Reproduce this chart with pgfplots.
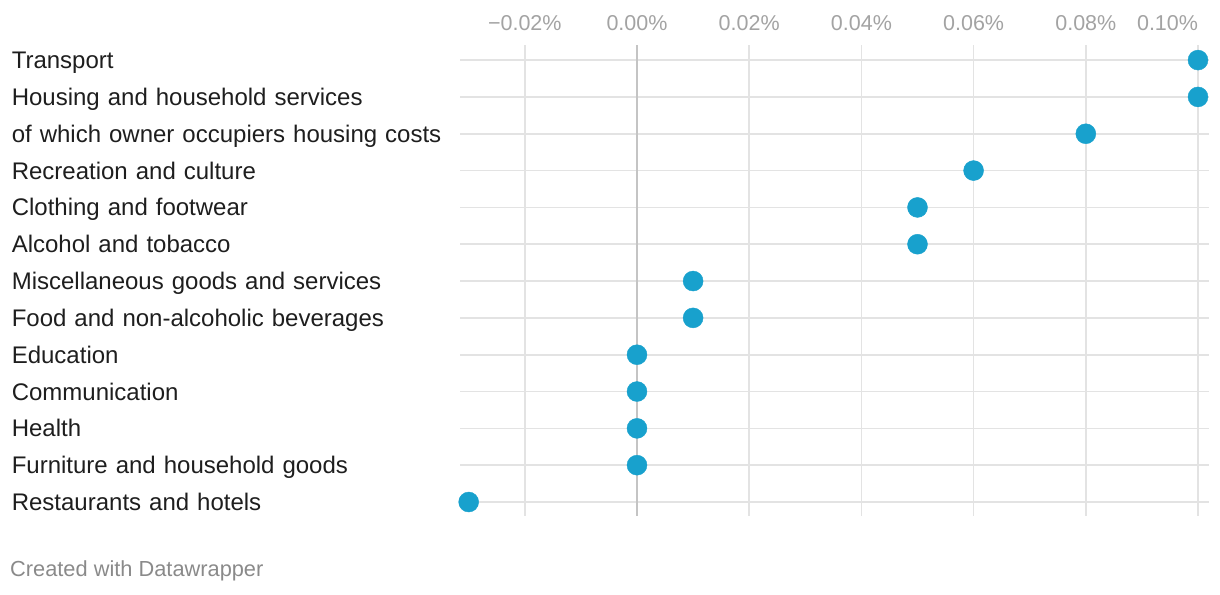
\documentclass[border=0pt]{standalone}
\usepackage{pgfplots}
\pgfplotsset{compat=1.18}
\usepackage{pgfplotstable}
\usepackage{fontspec}
\setmainfont{Liberation Sans}
\definecolor{dotblue}{HTML}{18A1CD}
\definecolor{gridgray}{HTML}{E3E3E3}
\definecolor{zerogray}{HTML}{C4C4C4}
\definecolor{ticktext}{HTML}{A3A3A3}
\definecolor{labeltext}{HTML}{1E1E1E}
\definecolor{foottext}{HTML}{8A8A8A}
\pgfplotstableread{
y v
0 0.10
1 0.10
2 0.08
3 0.06
4 0.05
5 0.05
6 0.01
7 0.01
8 0
9 0
10 0
11 0
12 -0.03
}\data
\begin{document}
\begin{tikzpicture}
\begin{axis}[
  scale only axis,
  width=749pt, height=471pt,
  xmin=-0.03155, xmax=0.10196,
  ymin=-0.41, ymax=12.38,
  y dir=reverse,
  clip=false,
  axis line style={draw=none},
  major tick length=0pt,
  tick style={draw=none},
  xmajorgrids, ymajorgrids,
  grid style={color=gridgray, line width=1.6pt},
  xtick={-0.02,0,0.02,0.04,0.06,0.08,0.10},
  xticklabels={−0.02\%,0.00\%,0.02\%,0.04\%,0.06\%,0.08\%,\makebox[0pt][r]{0.10\%}},
  xticklabel pos=upper,
  xticklabel style={anchor=base, inner sep=0pt, yshift=15pt, font=\fontsize{21.5}{25}\selectfont, text=ticktext},
  extra x ticks={0},
  extra x tick labels={},
  extra x tick style={grid style={color=zerogray, line width=1.6pt}},
  ytick={0,1,2,3,4,5,6,7,8,9,10,11,12},
  yticklabels={Transport,Housing and household services,of which owner occupiers housing costs,Recreation and culture,Clothing and footwear,Alcohol and tobacco,Miscellaneous goods and services,Food and non-alcoholic beverages,Education,Communication,Health,Furniture and household goods,Restaurants and hotels},
  yticklabel style={anchor=base east, inner sep=0pt, yshift=-8.5pt, text width=448pt, align=left, font=\fontsize{24}{28}\selectfont, text=labeltext},
]
\addplot[color=dotblue, only marks, mark=*, mark size=10pt, mark options={fill=dotblue, draw=none}] table[x=v, y=y] {\data};
\end{axis}
\node[anchor=west, inner sep=0pt, font=\fontsize{21.8}{26}\selectfont, text=foottext] at ([shift={(-450pt,-55pt)}]current axis.south west) {Created with Datawrapper};
\pgfresetboundingbox
\path ([shift={(-460pt,-78pt)}]current axis.south west) rectangle ([shift={(11pt,45pt)}]current axis.north east);
\end{tikzpicture}
\end{document}
